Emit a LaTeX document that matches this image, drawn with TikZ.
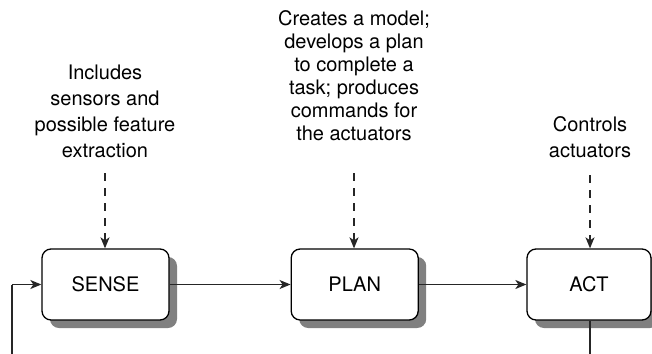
\documentclass[tikz,border=0pt]{standalone}
\usepackage{fontspec}
\setmainfont{TeX Gyre Heros}
\usetikzlibrary{arrows.meta,shadows}
\tikzset{
  stagebox/.style={draw=black, line width=1.3pt, rounded corners=9pt, fill=white,
    minimum width=127pt, minimum height=71pt, inner sep=0pt,
    font=\fontsize{20}{24}\selectfont,
    drop shadow={shadow xshift=8pt, shadow yshift=-8pt, fill=black!50, opacity=1, draw=none}},
  note/.style={align=center, inner sep=0pt, anchor=north},
  flow/.style={line width=1.3pt, draw=black!85, -{Stealth[length=11pt,width=9pt,inset=3pt]}},
  dflow/.style={line width=1.3pt, draw=black!85, dash pattern=on 8pt off 7pt,
    -{Stealth[length=11pt,width=9pt,inset=3pt]}},
  loopline/.style={line width=1.3pt, draw=black!85}
}
\begin{document}
\begin{tikzpicture}[x=1pt,y=-1pt]
\clip (0,0) rectangle (652,353);
\fill[white] (0,0) rectangle (652,353);
\node[stagebox] (sense) at (105.5,284.5) {SENSE};
\node[stagebox] (plan) at (354.7,284.5) {PLAN};
\node[stagebox, minimum width=124pt] (act) at (589,284.5) {ACT};
\node[note, font=\fontsize{20}{26}\selectfont] (tsense) at (105,64.5)
  {Includes\\sensors and\\possible feature\\extraction};
\node[note, font=\fontsize{20}{23}\selectfont] (tplan) at (354,10.5)
  {Creates a model;\\develops a plan\\to complete a\\task; produces\\commands for\\the actuators};
\node[note, font=\fontsize{20}{26}\selectfont] (tact) at (590,116.5)
  {Controls\\actuators};
\coordinate (dsense) at (105,173);
\coordinate (dplan) at (354,173);
\coordinate (dact) at (590,175);
\draw[dflow] (dsense) -- (dsense |- sense.north);
\draw[dflow] (dplan) -- (dplan |- plan.north);
\draw[dflow] (dact) -- (dact |- act.north);
\draw[flow] (sense.east) -- (plan.west);
\draw[flow] (plan.east) -- (act.west);
\coordinate (loopR) at (590,375);
\coordinate (loopL) at (12,375);
\draw[loopline] (act.south -| loopR) -- (loopR) -- (loopL) -- (loopL |- sense.west);
\draw[flow] (loopL |- sense.west) -- (sense.west);
\end{tikzpicture}
\end{document}
